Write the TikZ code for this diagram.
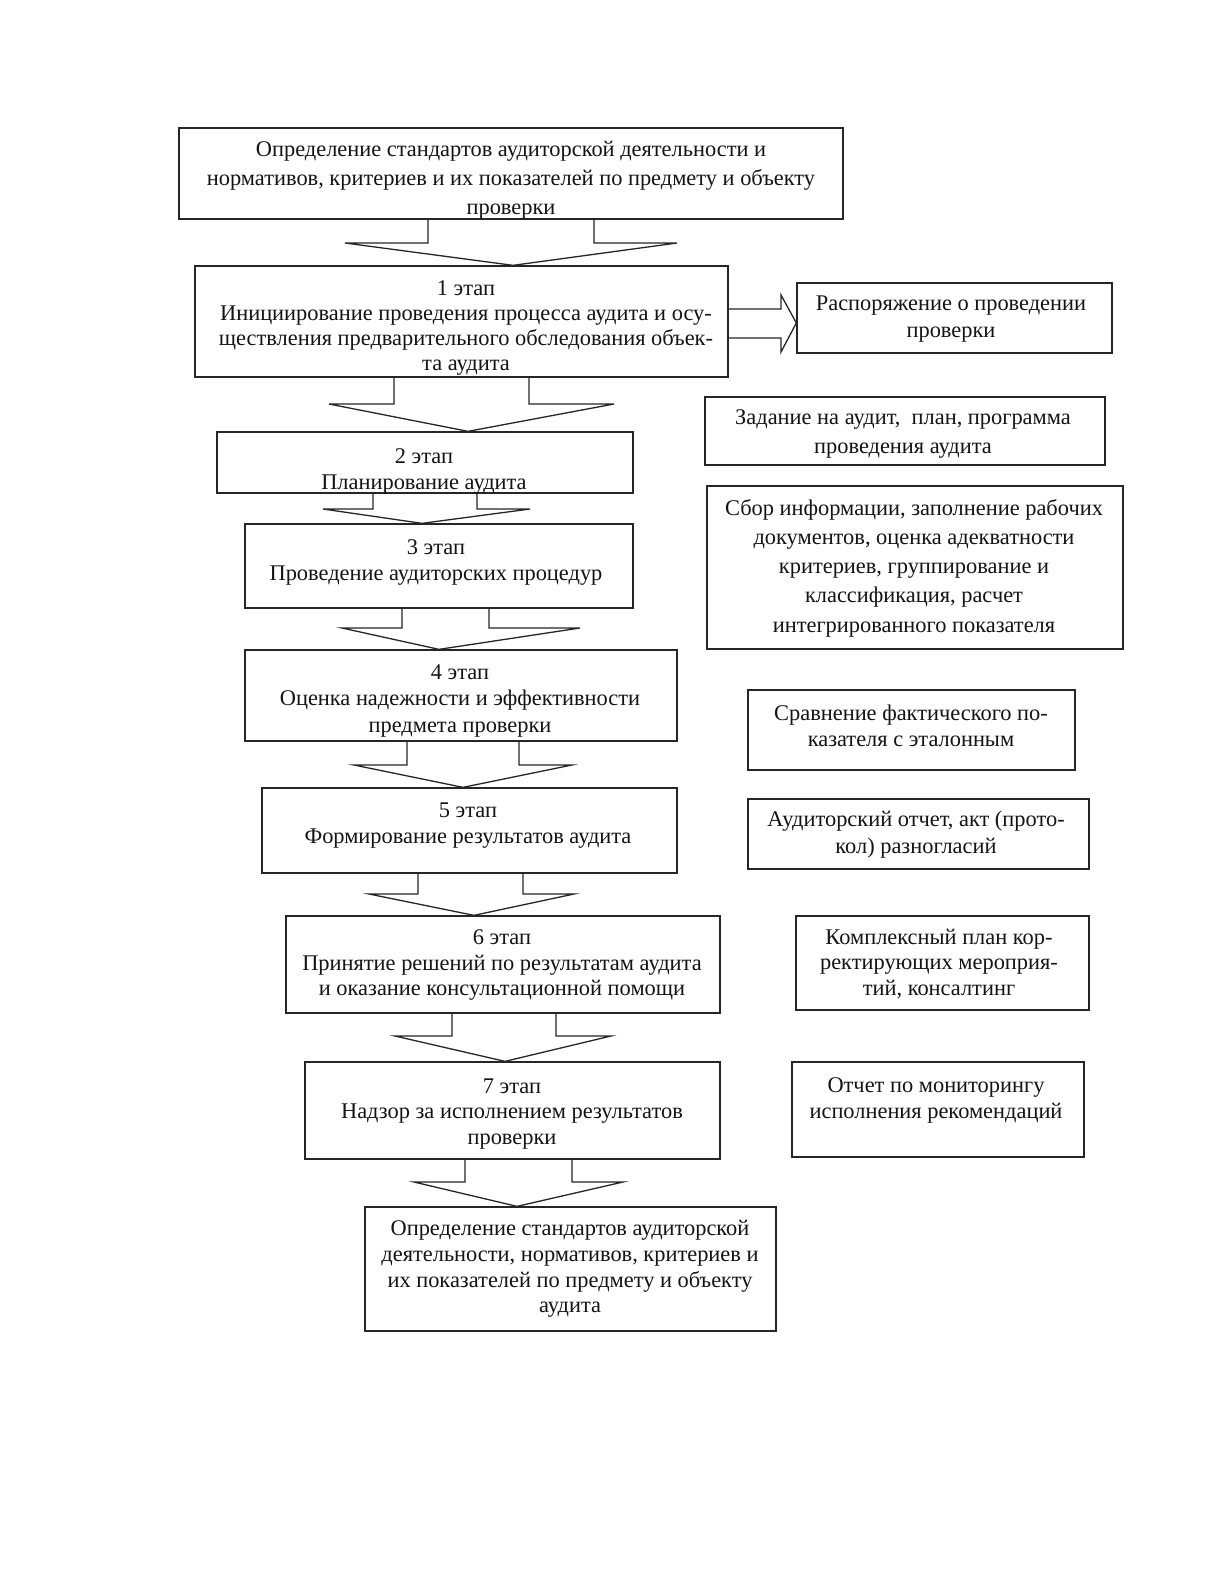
\documentclass[tikz,border=0pt]{standalone}
\usepackage{fontspec}
\setmainfont{Liberation Serif}
\usetikzlibrary{fit}
\newcommand\barrowdown[8]{%
  \draw[blockarrow] (#3,0 |- #1.south) -- (#3,#7) -- (#5,#7) -- (#8,0 |- #2.north) -- (#6,#7) -- (#4,#7) -- (#4,0 |- #1.south);}
\newcommand\fs[1]{\fontsize{11.2}{#1}\selectfont}
\begin{document}
\begin{tikzpicture}[x=0.5pt,y=-0.5pt,
  box/.style={draw=black!85, line width=0.65pt, rectangle, inner sep=0pt},
  txt/.style={align=center, text=black!92, inner sep=0pt, font=\fs{13}},
  blockarrow/.style={draw=black!85, line width=0.65pt, line join=miter}]
\useasboundingbox[fill=white] (0,0) rectangle (1224,1584);

% main column boxes
\node[box, fit={(179,128) (843,219)}] (top) {};
\node[box, fit={(195,266) (728,377)}] (b1) {};
\node[box, fit={(217,432) (633,493)}] (b2) {};
\node[box, fit={(245,524) (633,608)}] (b3) {};
\node[box, fit={(245,650) (677,741)}] (b4) {};
\node[box, fit={(262,788) (677,873)}] (b5) {};
\node[box, fit={(286,916) (720,1013)}] (b6) {};
\node[box, fit={(305,1062) (720,1159)}] (b7) {};
\node[box, fit={(365,1207) (776,1331)}] (b8) {};

% right column boxes
\node[box, fit={(797,283) (1112,353)}] (r1) {};
\node[box, fit={(705,397) (1105,465)}] (r2) {};
\node[box, fit={(707,486) (1123,649)}] (r3) {};
\node[box, fit={(748,690) (1075,770)}] (r4) {};
\node[box, fit={(748,799) (1089,869)}] (r5) {};
\node[box, fit={(796,916) (1089,1010)}] (r6) {};
\node[box, fit={(792,1062) (1084,1157)}] (r7) {};

% texts
\node[txt, font=\fs{14.6}] (ttop) at (511,180) {Определение стандартов аудиторской деятельности и\\нормативов, критериев и их показателей по предмету и объекту\\проверки};
\node[txt, font=\fs{12.6}] (tb1) at (466,328) {1 этап\\Инициирование проведения процесса аудита и осу-\\ществления предварительного обследования объек-\\та аудита};
\node[txt] (tb2) at (424,471) {2 этап\\Планирование аудита};
\node[txt] (tb3) at (436,562) {3 этап\\Проведение аудиторских процедур};
\node[txt, font=\fs{13.2}] (tb4) at (460,701) {4 этап\\Оценка надежности и эффективности\\предмета проверки};
\node[txt] (tb5) at (468,826) {5 этап\\Формирование результатов аудита};
\node[txt, font=\fs{12.7}] (tb6) at (502,965) {6 этап\\Принятие решений по результатам аудита\\и оказание консультационной помощи};
\node[txt, font=\fs{12.9}] (tb7) at (512,1114) {7 этап\\Надзор за исполнением результатов\\проверки};
\node[txt, font=\fs{12.8}] (tb8) at (570,1269) {Определение стандартов аудиторской\\деятельности, нормативов, критериев и\\их показателей по предмету и объекту\\аудита};

\node[txt, font=\fs{13.6}] (tr1) at (951,319) {Распоряжение о проведении\\проверки};
\node[txt, font=\fs{14.1}] (tr2) at (903,434) {Задание на аудит,~ план, программа\\проведения аудита};
\node[txt, font=\fs{14.6}] (tr3) at (914,568) {Сбор информации, заполнение рабочих\\документов, оценка адекватности\\критериев, группирование и\\классификация, расчет\\интегрированного показателя};
\node[txt] (tr4) at (911,726) {Сравнение фактического по-\\казателя с эталонным};
\node[txt, font=\fs{13.6}] (tr5) at (916,835) {Аудиторский отчет, акт (прото-\\кол) разногласий};
\node[txt, font=\fs{12.9}] (tr6) at (939,964) {Комплексный план кор-\\ректирующих мероприя-\\тий, консалтинг};
\node[txt] (tr7) at (936,1100) {Отчет по мониторингу\\исполнения рекомендаций};

% block arrows down
\barrowdown{top}{b1}{428}{594}{345}{677}{243}{513}
\barrowdown{b1}{b2}{394}{529}{329}{614}{404}{468}
\barrowdown{b2}{b3}{373}{477}{323}{530}{509}{422}
\barrowdown{b3}{b4}{402}{489}{342}{580}{628}{439}
\barrowdown{b4}{b5}{407}{519}{354}{572}{765}{463}
\barrowdown{b5}{b6}{418}{523}{369}{574}{894}{474}
\barrowdown{b6}{b7}{452}{556}{395}{611}{1036}{505}
\barrowdown{b7}{b8}{465}{572}{414}{623}{1182}{517}

% block arrow right
\draw[blockarrow] (b1.east |- 0,309) -- (781,309) -- (781,295) -- (r1.west |- 0,323) -- (781,352) -- (781,338) -- (b1.east |- 0,338);
\end{tikzpicture}
\end{document}
